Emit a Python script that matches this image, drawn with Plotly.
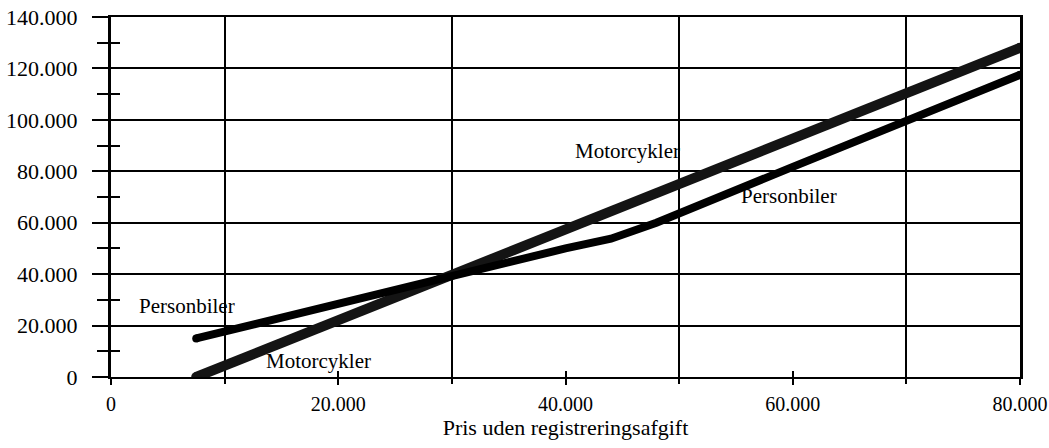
import plotly.graph_objects as go

# Data
pris = [7500, 20000, 30000, 40000, 44000, 46000, 48000, 60000, 80000]
personbiler = [15000, 28500, 39500, 50000, 53800, 56500, 60000, 81700, 117500]

pris_mc = [7500, 20000, 40000, 60000, 80000]
motorcykler = [0, 22000, 57400, 92700, 128000]

x_ticks = [0, 20000, 40000, 60000, 80000]
x_ticktext = ["0", "20.000", "40.000", "60.000", "80.000"]
y_ticks = [0, 20000, 40000, 60000, 80000, 100000, 120000, 140000]
y_ticktext = ["0", "20.000", "40.000", "60.000", "80.000", "100.000", "120.000", "140.000"]
x_minor = [10000, 30000, 50000, 70000]
y_minor = [10000, 30000, 50000, 70000, 90000, 110000, 130000]

labels = [
    ("Personbiler", 6700, 27600),
    ("Motorcykler", 18300, 6200),
    ("Motorcykler", 45500, 87900),
    ("Personbiler", 59700, 70400),
]

FONT = "Liberation Serif"
FS = 21
W_MC = 10
W_PB = 8

fig = go.Figure()
fig.add_trace(go.Scatter(x=pris_mc, y=motorcykler, mode="lines",
                         line=dict(color="#141414", width=W_MC), showlegend=False))
fig.add_trace(go.Scatter(x=pris, y=personbiler, mode="lines",
                         line=dict(color="black", width=W_PB), showlegend=False))
# round line ends, taken from the data arrays
fig.add_trace(go.Scatter(x=[pris_mc[0], pris_mc[-1]], y=[motorcykler[0], motorcykler[-1]],
                         mode="markers", marker=dict(color="#141414", size=W_MC),
                         showlegend=False, hoverinfo="skip"))
fig.add_trace(go.Scatter(x=[pris[0], pris[-1]], y=[personbiler[0], personbiler[-1]],
                         mode="markers", marker=dict(color="black", size=W_PB),
                         showlegend=False, hoverinfo="skip"))
# dummy trace to host overlay axes (inside tick marks)
fig.add_trace(go.Scatter(x=[None], y=[None], xaxis="x2", yaxis="y2",
                         mode="lines", showlegend=False, hoverinfo="skip"))

for txt, xv, yv in labels:
    fig.add_annotation(x=xv, y=yv, text=txt, showarrow=False,
                       font=dict(family=FONT, size=FS, color="black"))

fig.update_layout(
    width=1049, height=448,
    margin=dict(l=111, r=29, t=17, b=71),
    paper_bgcolor="white", plot_bgcolor="white",
    font=dict(family=FONT, size=FS, color="black"),
    xaxis=dict(
        range=[0, 80000], tickvals=x_ticks, ticktext=x_ticktext,
        showgrid=False, zeroline=False, automargin=False,
        ticks="outside", ticklen=6, tickwidth=2, tickcolor="black",
        showline=True, linewidth=2, linecolor="black", mirror=True,
        minor=dict(tickvals=x_minor, showgrid=True, gridcolor="black", gridwidth=2,
                   ticks="outside", ticklen=5, tickwidth=2, tickcolor="black"),
        title=dict(text="Pris uden registreringsafgift", standoff=0,
                   font=dict(family=FONT, size=22)),
        tickfont=dict(family=FONT, size=20),
        ticklabelstandoff=2, ticklabeloverflow="allow",
    ),
    yaxis=dict(
        range=[0, 140000], tickvals=y_ticks, ticktext=y_ticktext,
        showgrid=True, gridcolor="black", gridwidth=2, zeroline=False, automargin=False,
        ticks="outside", ticklen=16, tickwidth=2, tickcolor="black",
        showline=True, linewidth=3, linecolor="black", mirror=True,
        minor=dict(tickvals=y_minor, ticks="outside", ticklen=11, tickwidth=2,
                   tickcolor="black", showgrid=False),
        tickfont=dict(family=FONT, size=22),
        ticklabelstandoff=10, ticklabeloverflow="allow",
    ),
    xaxis2=dict(
        overlaying="x", side="bottom", range=[0, 80000], tickvals=x_ticks,
        showticklabels=False, showgrid=False, zeroline=False, showline=False,
        ticks="inside", ticklen=6, tickwidth=2, tickcolor="black", automargin=False,
    ),
    yaxis2=dict(
        overlaying="y", side="left", range=[0, 140000], tickvals=y_minor,
        showticklabels=False, showgrid=False, zeroline=False, showline=False,
        ticks="inside", ticklen=9, tickwidth=2, tickcolor="black", automargin=False,
    ),
)

fig.write_html("out.html", config={"displayModeBar": False},
               post_script="document.body.style.margin='0';document.body.style.overflow='hidden';")
